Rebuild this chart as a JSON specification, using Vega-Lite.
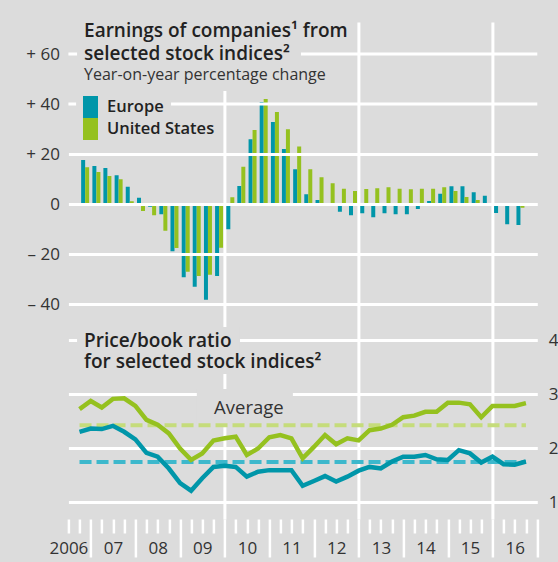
{
  "$schema": "https://vega.github.io/schema/vega-lite/v6.json",
  "width": 468.9,
  "height": 497,
  "autosize": {"type": "none"},
  "padding": {"left": 68.4, "top": 22, "right": 20.7, "bottom": 43},
  "background": "#dcdcdc",
  "config": {
    "view": {"stroke": null},
    "font": "Open Sans",
    "scale": {"continuousPadding": 0},
    "axis": {"labelFont": "Open Sans", "labelFontSize": 17, "labelColor": "#333333", "domain": false, "ticks": false, "title": null, "gridColor": "#ffffff", "gridWidth": 3, "gridOpacity": 1, "labelOverlap": false, "labelFlush": false}
  },
  "datasets": {
    "earn": [
      {"date": "2006-11-15", "region": "Europe", "chg": 17.6}, {"date": "2006-11-15", "region": "United States", "chg": 14.7},
      {"date": "2007-02-15", "region": "Europe", "chg": 15.2}, {"date": "2007-02-15", "region": "United States", "chg": 12.8},
      {"date": "2007-05-16", "region": "Europe", "chg": 14.4}, {"date": "2007-05-16", "region": "United States", "chg": 11.2},
      {"date": "2007-08-16", "region": "Europe", "chg": 11.5}, {"date": "2007-08-16", "region": "United States", "chg": 9.9},
      {"date": "2007-11-15", "region": "Europe", "chg": 6.9}, {"date": "2007-11-15", "region": "United States", "chg": 1.1},
      {"date": "2008-02-15", "region": "Europe", "chg": 2.5}, {"date": "2008-02-15", "region": "United States", "chg": -2.8},
      {"date": "2008-05-16", "region": "Europe", "chg": -1.1}, {"date": "2008-05-16", "region": "United States", "chg": -4.5},
      {"date": "2008-08-16", "region": "Europe", "chg": -4.1}, {"date": "2008-08-16", "region": "United States", "chg": -10.7},
      {"date": "2008-11-15", "region": "Europe", "chg": -18.9}, {"date": "2008-11-15", "region": "United States", "chg": -17.6},
      {"date": "2009-02-15", "region": "Europe", "chg": -29.3}, {"date": "2009-02-15", "region": "United States", "chg": -27.1},
      {"date": "2009-05-16", "region": "Europe", "chg": -33.1}, {"date": "2009-05-16", "region": "United States", "chg": -28.8},
      {"date": "2009-08-16", "region": "Europe", "chg": -38.3}, {"date": "2009-08-16", "region": "United States", "chg": -28.3},
      {"date": "2009-11-15", "region": "Europe", "chg": -28.8}, {"date": "2009-11-15", "region": "United States", "chg": -17.5},
      {"date": "2010-02-15", "region": "Europe", "chg": -10.1}, {"date": "2010-02-15", "region": "United States", "chg": 2.7},
      {"date": "2010-05-16", "region": "Europe", "chg": 7.2}, {"date": "2010-05-16", "region": "United States", "chg": 14.9},
      {"date": "2010-08-16", "region": "Europe", "chg": 25.9}, {"date": "2010-08-16", "region": "United States", "chg": 29.6},
      {"date": "2010-11-15", "region": "Europe", "chg": 40.8}, {"date": "2010-11-15", "region": "United States", "chg": 42.0},
      {"date": "2011-02-15", "region": "Europe", "chg": 32.8}, {"date": "2011-02-15", "region": "United States", "chg": 36.8},
      {"date": "2011-05-16", "region": "Europe", "chg": 22.0}, {"date": "2011-05-16", "region": "United States", "chg": 29.9},
      {"date": "2011-08-16", "region": "Europe", "chg": 13.9}, {"date": "2011-08-16", "region": "United States", "chg": 23.0},
      {"date": "2011-11-15", "region": "Europe", "chg": 3.9}, {"date": "2011-11-15", "region": "United States", "chg": 13.9},
      {"date": "2012-02-15", "region": "Europe", "chg": 1.6}, {"date": "2012-02-15", "region": "United States", "chg": 10.7},
      {"date": "2012-05-16", "region": "Europe", "chg": 0.2}, {"date": "2012-05-16", "region": "United States", "chg": 8.3},
      {"date": "2012-08-16", "region": "Europe", "chg": -3.1}, {"date": "2012-08-16", "region": "United States", "chg": 6.1},
      {"date": "2012-11-15", "region": "Europe", "chg": -4.5}, {"date": "2012-11-15", "region": "United States", "chg": 5.2},
      {"date": "2013-02-15", "region": "Europe", "chg": -3.7}, {"date": "2013-02-15", "region": "United States", "chg": 6.0},
      {"date": "2013-05-16", "region": "Europe", "chg": -5.3}, {"date": "2013-05-16", "region": "United States", "chg": 6.3},
      {"date": "2013-08-16", "region": "Europe", "chg": -3.7}, {"date": "2013-08-16", "region": "United States", "chg": 6.7},
      {"date": "2013-11-15", "region": "Europe", "chg": -4.1}, {"date": "2013-11-15", "region": "United States", "chg": 6.1},
      {"date": "2014-02-15", "region": "Europe", "chg": -4.1}, {"date": "2014-02-15", "region": "United States", "chg": 5.9},
      {"date": "2014-05-16", "region": "Europe", "chg": -2.0}, {"date": "2014-05-16", "region": "United States", "chg": 6.1},
      {"date": "2014-08-16", "region": "Europe", "chg": 1.2}, {"date": "2014-08-16", "region": "United States", "chg": 6.1},
      {"date": "2014-11-15", "region": "Europe", "chg": 4.1}, {"date": "2014-11-15", "region": "United States", "chg": 6.7},
      {"date": "2015-02-15", "region": "Europe", "chg": 7.1}, {"date": "2015-02-15", "region": "United States", "chg": 5.2},
      {"date": "2015-05-16", "region": "Europe", "chg": 7.1}, {"date": "2015-05-16", "region": "United States", "chg": 2.8},
      {"date": "2015-08-16", "region": "Europe", "chg": 4.7}, {"date": "2015-08-16", "region": "United States", "chg": 1.6},
      {"date": "2015-11-15", "region": "Europe", "chg": 3.3}, {"date": "2015-11-15", "region": "United States", "chg": 0.0},
      {"date": "2016-02-15", "region": "Europe", "chg": -3.6}, {"date": "2016-02-15", "region": "United States", "chg": 0.0},
      {"date": "2016-05-16", "region": "Europe", "chg": -8.1}, {"date": "2016-05-16", "region": "United States", "chg": 0.0},
      {"date": "2016-08-16", "region": "Europe", "chg": -8.4}, {"date": "2016-08-16", "region": "United States", "chg": -1.5}
    ],
    "pb": [
      {"date": "2006-09-30", "region": "Europe", "pb": 2.30, "avg": 1.74}, {"date": "2006-09-30", "region": "United States", "pb": 2.72, "avg": 2.42},
      {"date": "2006-12-31", "region": "Europe", "pb": 2.36, "avg": 1.74}, {"date": "2006-12-31", "region": "United States", "pb": 2.87, "avg": 2.42},
      {"date": "2007-03-31", "region": "Europe", "pb": 2.35, "avg": 1.74}, {"date": "2007-03-31", "region": "United States", "pb": 2.75, "avg": 2.42},
      {"date": "2007-06-30", "region": "Europe", "pb": 2.41, "avg": 1.74}, {"date": "2007-06-30", "region": "United States", "pb": 2.91, "avg": 2.42},
      {"date": "2007-09-30", "region": "Europe", "pb": 2.30, "avg": 1.74}, {"date": "2007-09-30", "region": "United States", "pb": 2.92, "avg": 2.42},
      {"date": "2007-12-31", "region": "Europe", "pb": 2.16, "avg": 1.74}, {"date": "2007-12-31", "region": "United States", "pb": 2.78, "avg": 2.42},
      {"date": "2008-03-31", "region": "Europe", "pb": 1.91, "avg": 1.74}, {"date": "2008-03-31", "region": "United States", "pb": 2.52, "avg": 2.42},
      {"date": "2008-06-30", "region": "Europe", "pb": 1.84, "avg": 1.74}, {"date": "2008-06-30", "region": "United States", "pb": 2.43, "avg": 2.42},
      {"date": "2008-09-30", "region": "Europe", "pb": 1.62, "avg": 1.74}, {"date": "2008-09-30", "region": "United States", "pb": 2.27, "avg": 2.42},
      {"date": "2008-12-31", "region": "Europe", "pb": 1.35, "avg": 1.74}, {"date": "2008-12-31", "region": "United States", "pb": 1.99, "avg": 2.42},
      {"date": "2009-03-31", "region": "Europe", "pb": 1.21, "avg": 1.74}, {"date": "2009-03-31", "region": "United States", "pb": 1.78, "avg": 2.42},
      {"date": "2009-06-30", "region": "Europe", "pb": 1.44, "avg": 1.74}, {"date": "2009-06-30", "region": "United States", "pb": 1.90, "avg": 2.42},
      {"date": "2009-09-30", "region": "Europe", "pb": 1.65, "avg": 1.74}, {"date": "2009-09-30", "region": "United States", "pb": 2.14, "avg": 2.42},
      {"date": "2009-12-31", "region": "Europe", "pb": 1.67, "avg": 1.74}, {"date": "2009-12-31", "region": "United States", "pb": 2.18, "avg": 2.42},
      {"date": "2010-03-31", "region": "Europe", "pb": 1.65, "avg": 1.74}, {"date": "2010-03-31", "region": "United States", "pb": 2.21, "avg": 2.42},
      {"date": "2010-06-30", "region": "Europe", "pb": 1.47, "avg": 1.74}, {"date": "2010-06-30", "region": "United States", "pb": 1.87, "avg": 2.42},
      {"date": "2010-09-30", "region": "Europe", "pb": 1.56, "avg": 1.74}, {"date": "2010-09-30", "region": "United States", "pb": 1.99, "avg": 2.42},
      {"date": "2010-12-31", "region": "Europe", "pb": 1.59, "avg": 1.74}, {"date": "2010-12-31", "region": "United States", "pb": 2.20, "avg": 2.42},
      {"date": "2011-03-31", "region": "Europe", "pb": 1.59, "avg": 1.74}, {"date": "2011-03-31", "region": "United States", "pb": 2.24, "avg": 2.42},
      {"date": "2011-06-30", "region": "Europe", "pb": 1.59, "avg": 1.74}, {"date": "2011-06-30", "region": "United States", "pb": 2.18, "avg": 2.42},
      {"date": "2011-09-30", "region": "Europe", "pb": 1.30, "avg": 1.74}, {"date": "2011-09-30", "region": "United States", "pb": 1.81, "avg": 2.42},
      {"date": "2011-12-31", "region": "Europe", "pb": 1.39, "avg": 1.74}, {"date": "2011-12-31", "region": "United States", "pb": 2.02, "avg": 2.42},
      {"date": "2012-03-31", "region": "Europe", "pb": 1.48, "avg": 1.74}, {"date": "2012-03-31", "region": "United States", "pb": 2.24, "avg": 2.42},
      {"date": "2012-06-30", "region": "Europe", "pb": 1.38, "avg": 1.74}, {"date": "2012-06-30", "region": "United States", "pb": 2.07, "avg": 2.42},
      {"date": "2012-09-30", "region": "Europe", "pb": 1.47, "avg": 1.74}, {"date": "2012-09-30", "region": "United States", "pb": 2.18, "avg": 2.42},
      {"date": "2012-12-31", "region": "Europe", "pb": 1.58, "avg": 1.74}, {"date": "2012-12-31", "region": "United States", "pb": 2.14, "avg": 2.42},
      {"date": "2013-03-31", "region": "Europe", "pb": 1.65, "avg": 1.74}, {"date": "2013-03-31", "region": "United States", "pb": 2.33, "avg": 2.42},
      {"date": "2013-06-30", "region": "Europe", "pb": 1.62, "avg": 1.74}, {"date": "2013-06-30", "region": "United States", "pb": 2.36, "avg": 2.42},
      {"date": "2013-09-30", "region": "Europe", "pb": 1.75, "avg": 1.74}, {"date": "2013-09-30", "region": "United States", "pb": 2.43, "avg": 2.42},
      {"date": "2013-12-31", "region": "Europe", "pb": 1.84, "avg": 1.74}, {"date": "2013-12-31", "region": "United States", "pb": 2.57, "avg": 2.42},
      {"date": "2014-03-31", "region": "Europe", "pb": 1.84, "avg": 1.74}, {"date": "2014-03-31", "region": "United States", "pb": 2.60, "avg": 2.42},
      {"date": "2014-06-30", "region": "Europe", "pb": 1.87, "avg": 1.74}, {"date": "2014-06-30", "region": "United States", "pb": 2.67, "avg": 2.42},
      {"date": "2014-09-30", "region": "Europe", "pb": 1.79, "avg": 1.74}, {"date": "2014-09-30", "region": "United States", "pb": 2.67, "avg": 2.42},
      {"date": "2014-12-31", "region": "Europe", "pb": 1.78, "avg": 1.74}, {"date": "2014-12-31", "region": "United States", "pb": 2.84, "avg": 2.42},
      {"date": "2015-03-31", "region": "Europe", "pb": 1.96, "avg": 1.74}, {"date": "2015-03-31", "region": "United States", "pb": 2.84, "avg": 2.42},
      {"date": "2015-06-30", "region": "Europe", "pb": 1.90, "avg": 1.74}, {"date": "2015-06-30", "region": "United States", "pb": 2.81, "avg": 2.42},
      {"date": "2015-09-30", "region": "Europe", "pb": 1.73, "avg": 1.74}, {"date": "2015-09-30", "region": "United States", "pb": 2.57, "avg": 2.42},
      {"date": "2015-12-31", "region": "Europe", "pb": 1.84, "avg": 1.74}, {"date": "2015-12-31", "region": "United States", "pb": 2.78, "avg": 2.42},
      {"date": "2016-03-31", "region": "Europe", "pb": 1.70, "avg": 1.74}, {"date": "2016-03-31", "region": "United States", "pb": 2.78, "avg": 2.42},
      {"date": "2016-06-30", "region": "Europe", "pb": 1.69, "avg": 1.74}, {"date": "2016-06-30", "region": "United States", "pb": 2.78, "avg": 2.42},
      {"date": "2016-09-30", "region": "Europe", "pb": 1.75, "avg": 1.74}, {"date": "2016-09-30", "region": "United States", "pb": 2.83, "avg": 2.42}
    ]
  },
  "layer": [
    {
      "data": {"name": "earn"},
      "transform": [{"filter": "datum.region === 'Europe'"}],
      "mark": {"type": "bar", "width": 4, "xOffset": -2},
      "encoding": {
        "x": {"field": "date", "type": "temporal",
          "scale": {"type": "utc", "padding": 0, "domain": [{"year": 2006, "month": 7, "date": 1, "utc": true}, {"year": 2017, "month": 1, "date": 1, "utc": true}]},
          "axis": {"orient": "bottom", "values": [
            {"year": 2006, "month": 7, "date": 1, "utc": true}, {"year": 2006, "month": 10, "date": 1, "utc": true},
            {"year": 2007, "month": 4, "date": 1, "utc": true}, {"year": 2007, "month": 7, "date": 1, "utc": true}, {"year": 2007, "month": 10, "date": 1, "utc": true},
            {"year": 2008, "month": 4, "date": 1, "utc": true}, {"year": 2008, "month": 7, "date": 1, "utc": true}, {"year": 2008, "month": 10, "date": 1, "utc": true},
            {"year": 2009, "month": 4, "date": 1, "utc": true}, {"year": 2009, "month": 7, "date": 1, "utc": true}, {"year": 2009, "month": 10, "date": 1, "utc": true},
            {"year": 2010, "month": 4, "date": 1, "utc": true}, {"year": 2010, "month": 7, "date": 1, "utc": true}, {"year": 2010, "month": 10, "date": 1, "utc": true},
            {"year": 2011, "month": 4, "date": 1, "utc": true}, {"year": 2011, "month": 7, "date": 1, "utc": true}, {"year": 2011, "month": 10, "date": 1, "utc": true},
            {"year": 2012, "month": 4, "date": 1, "utc": true}, {"year": 2012, "month": 7, "date": 1, "utc": true}, {"year": 2012, "month": 10, "date": 1, "utc": true},
            {"year": 2013, "month": 4, "date": 1, "utc": true}, {"year": 2013, "month": 7, "date": 1, "utc": true}, {"year": 2013, "month": 10, "date": 1, "utc": true},
            {"year": 2014, "month": 4, "date": 1, "utc": true}, {"year": 2014, "month": 7, "date": 1, "utc": true}, {"year": 2014, "month": 10, "date": 1, "utc": true},
            {"year": 2015, "month": 4, "date": 1, "utc": true}, {"year": 2015, "month": 7, "date": 1, "utc": true}, {"year": 2015, "month": 10, "date": 1, "utc": true},
            {"year": 2016, "month": 4, "date": 1, "utc": true}, {"year": 2016, "month": 7, "date": 1, "utc": true}, {"year": 2016, "month": 10, "date": 1, "utc": true}
          ], "ticks": true, "tickSize": 14, "tickWidth": 2.5, "tickColor": "#ffffff", "grid": false, "labelPadding": 7, "labelExpr": "utcmonth(datum.value) == 6 ? (utcyear(datum.value) == 2006 ? '2006' : format(utcyear(datum.value) % 100, '02d')) : ''"}},
        "y": {"field": "chg", "type": "quantitative",
          "scale": {"domain": [-126, 72.8], "nice": false, "zero": false},
          "axis": {"orient": "left", "values": [-40, -20, 0, 20], "grid": true, "zindex": 1, "labelPadding": 9, "labelExpr": "datum.value > 0 ? '+ ' + datum.value : (datum.value < 0 ? '\u2013 ' + abs(datum.value) : '0')"}},
        "color": {"field": "region", "type": "nominal",
          "scale": {"domain": ["Europe", "United States"], "range": ["#0096a9", "#95c11f"]},
          "legend": {"orient": "none", "legendX": 11.1, "legendY": 74, "title": null, "symbolType": "M-0.68,-1H0.68V1H-0.68Z", "symbolSize": 484, "symbolStrokeWidth": 0, "symbolOpacity": 1, "labelFont": "Open Sans", "labelFontSize": 16.5, "labelFontWeight": 600, "labelColor": "#222222", "rowPadding": 0, "padding": 0, "labelOffset": 5.5}}
      }
    },
    {
      "data": {"name": "earn"},
      "transform": [{"filter": "datum.region === 'United States'"}],
      "mark": {"type": "bar", "width": 4, "xOffset": 2},
      "encoding": {
        "x": {"field": "date", "type": "temporal", "axis": null},
        "y": {"field": "chg", "type": "quantitative", "scale": {"domain": [-126, 72.8], "nice": false, "zero": false},
          "axis": {"orient": "left", "values": [40, 60], "grid": false, "labelPadding": 9, "labelExpr": "'+ ' + datum.value"}},
        "color": {"field": "region", "type": "nominal"}
      }
    },
    {
      "data": {"values": [{}]},
      "mark": {"type": "rule", "color": "#ffffff", "strokeWidth": 3},
      "encoding": {
        "y": {"datum": 60, "type": "quantitative", "scale": {"domain": [-126, 72.8], "nice": false, "zero": false}, "axis": null}
      }
    },
    {
      "data": {"values": [{}]},
      "mark": {"type": "rule", "color": "#ffffff", "strokeWidth": 3},
      "encoding": {
        "y": {"datum": 40, "type": "quantitative", "scale": {"domain": [-126, 72.8], "nice": false, "zero": false}, "axis": null}
      }
    },
    {
      "data": {"values": [{}]},
      "mark": {"type": "rect", "color": "#dcdcdc"},
      "encoding": {
        "x": {"datum": {"year": 2006, "month": 9, "date": 10, "utc": true}, "type": "temporal", "axis": null},
        "x2": {"datum": {"year": 2012, "month": 12, "date": 17, "utc": true}},
        "y": {"datum": 72.8, "type": "quantitative", "scale": {"domain": [-126, 72.8], "nice": false, "zero": false}, "axis": null},
        "y2": {"datum": 63.6}
      }
    },
    {
      "data": {"values": [{}]},
      "mark": {"type": "rect", "color": "#dcdcdc"},
      "encoding": {
        "x": {"datum": {"year": 2006, "month": 9, "date": 10, "utc": true}, "type": "temporal", "axis": null},
        "x2": {"datum": {"year": 2011, "month": 9, "date": 16, "utc": true}},
        "y": {"datum": 63.6, "type": "quantitative", "scale": {"domain": [-126, 72.8], "nice": false, "zero": false}, "axis": null},
        "y2": {"datum": 55.2}
      }
    },
    {
      "data": {"values": [{}]},
      "mark": {"type": "rect", "color": "#dcdcdc"},
      "encoding": {
        "x": {"datum": {"year": 2006, "month": 9, "date": 10, "utc": true}, "type": "temporal", "axis": null},
        "x2": {"datum": {"year": 2012, "month": 7, "date": 7, "utc": true}},
        "y": {"datum": 55.2, "type": "quantitative", "scale": {"domain": [-126, 72.8], "nice": false, "zero": false}, "axis": null},
        "y2": {"datum": 45.2}
      }
    },
    {
      "data": {"values": [{}]},
      "mark": {"type": "rect", "color": "#dcdcdc"},
      "encoding": {
        "x": {"datum": {"year": 2006, "month": 9, "date": 2, "utc": true}, "type": "temporal", "axis": null},
        "x2": {"datum": {"year": 2008, "month": 10, "date": 18, "utc": true}},
        "y": {"datum": 44, "type": "quantitative", "scale": {"domain": [-126, 72.8], "nice": false, "zero": false}, "axis": null},
        "y2": {"datum": 35.2}
      }
    },
    {
      "data": {"values": [{}]},
      "mark": {"type": "rect", "color": "#dcdcdc"},
      "encoding": {
        "x": {"datum": {"year": 2006, "month": 9, "date": 10, "utc": true}, "type": "temporal", "axis": null},
        "x2": {"datum": {"year": 2010, "month": 5, "date": 5, "utc": true}},
        "y": {"datum": -49.2, "type": "quantitative", "scale": {"domain": [-126, 72.8], "nice": false, "zero": false}, "axis": null},
        "y2": {"datum": -58.8}
      }
    },
    {
      "data": {"values": [{}]},
      "mark": {"type": "rect", "color": "#dcdcdc"},
      "encoding": {
        "x": {"datum": {"year": 2006, "month": 9, "date": 10, "utc": true}, "type": "temporal", "axis": null},
        "x2": {"datum": {"year": 2012, "month": 7, "date": 7, "utc": true}},
        "y": {"datum": -58.8, "type": "quantitative", "scale": {"domain": [-126, 72.8], "nice": false, "zero": false}, "axis": null},
        "y2": {"datum": -68}
      }
    },
    {
      "data": {"values": [{}]},
      "mark": {"type": "rect", "color": "#dcdcdc"},
      "encoding": {
        "x": {"datum": {"year": 2009, "month": 5, "date": 17, "utc": true}, "type": "temporal", "axis": null},
        "x2": {"datum": {"year": 2011, "month": 7, "date": 12, "utc": true}},
        "y": {"datum": -74, "type": "quantitative", "scale": {"domain": [-126, 72.8], "nice": false, "zero": false}, "axis": null},
        "y2": {"datum": -88}
      }
    },
    {
      "data": {"values": [{}]},
      "mark": {"type": "text", "align": "left", "baseline": "alphabetic", "font": "Open Sans", "fontSize": 19, "fontWeight": 600, "color": "#222222", "lineHeight": 23, "text": ["Earnings of companies\u00b9 from", "selected stock indices\u00b2"]},
      "encoding": {
        "x": {"datum": {"year": 2006, "month": 11, "date": 6, "utc": true}, "type": "temporal", "axis": null},
        "y": {"datum": 66.8, "type": "quantitative", "scale": {"domain": [-126, 72.8], "nice": false, "zero": false}, "axis": null}
      }
    },
    {
      "data": {"values": [{}]},
      "mark": {"type": "text", "align": "left", "baseline": "alphabetic", "font": "Open Sans", "fontSize": 16, "fontWeight": 400, "color": "#333333", "text": "Year-on-year percentage change"},
      "encoding": {
        "x": {"datum": {"year": 2006, "month": 11, "date": 6, "utc": true}, "type": "temporal", "axis": null},
        "y": {"datum": 49.6, "type": "quantitative", "scale": {"domain": [-126, 72.8], "nice": false, "zero": false}, "axis": null}
      }
    },
    {
      "data": {"values": [{}]},
      "mark": {"type": "text", "align": "left", "baseline": "alphabetic", "font": "Open Sans", "fontSize": 19, "fontWeight": 600, "color": "#222222", "lineHeight": 21, "text": ["Price/book ratio", "for selected stock indices\u00b2"]},
      "encoding": {
        "x": {"datum": {"year": 2006, "month": 11, "date": 6, "utc": true}, "type": "temporal", "axis": null},
        "y": {"datum": -57.2, "type": "quantitative", "scale": {"domain": [-126, 72.8], "nice": false, "zero": false}, "axis": null}
      }
    },
    {
      "data": {"values": [{}]},
      "mark": {"type": "text", "align": "left", "baseline": "alphabetic", "font": "Open Sans", "fontSize": 18.5, "fontWeight": 400, "color": "#333333", "text": "Average"},
      "encoding": {
        "x": {"datum": {"year": 2009, "month": 10, "date": 5, "utc": true}, "type": "temporal", "axis": null},
        "y": {"datum": -84, "type": "quantitative", "scale": {"domain": [-126, 72.8], "nice": false, "zero": false}, "axis": null}
      }
    },
    {
      "data": {"name": "pb"},
      "mark": {"type": "line", "strokeWidth": 4, "strokeDash": [12, 5]},
      "encoding": {
        "x": {"field": "date", "type": "temporal",
          "axis": {"orient": "bottom", "values": [
            {"year": 2007, "month": 1, "date": 1, "utc": true}, {"year": 2008, "month": 1, "date": 1, "utc": true}, {"year": 2009, "month": 1, "date": 1, "utc": true},
            {"year": 2010, "month": 1, "date": 1, "utc": true}, {"year": 2011, "month": 1, "date": 1, "utc": true}, {"year": 2012, "month": 1, "date": 1, "utc": true},
            {"year": 2013, "month": 1, "date": 1, "utc": true}, {"year": 2014, "month": 1, "date": 1, "utc": true}, {"year": 2015, "month": 1, "date": 1, "utc": true},
            {"year": 2016, "month": 1, "date": 1, "utc": true}, {"year": 2017, "month": 1, "date": 1, "utc": true}
          ], "ticks": true, "tickSize": 38, "tickWidth": 2.5, "tickColor": "#ffffff", "labels": false, "grid": true,
          "gridOpacity": {"condition": {"test": "indexof([2010, 2013, 2016], utcyear(datum.value)) >= 0", "value": 1}, "value": 0}}},
        "y": {"field": "avg", "type": "quantitative",
          "scale": {"domain": [0.6852, 9.8889], "nice": false, "zero": false},
          "axis": {"orient": "right", "values": [1, 2, 3, 4], "grid": true, "labelPadding": 11}},
        "stroke": {"field": "region", "type": "nominal",
          "scale": {"domain": ["Europe", "United States"], "range": ["#3db8cc", "#c5dc7b"]},
          "legend": null}
      }
    },
    {
      "data": {"name": "pb"},
      "mark": {"type": "line", "strokeWidth": 4.5},
      "encoding": {
        "x": {"field": "date", "type": "temporal", "axis": null},
        "y": {"field": "pb", "type": "quantitative", "scale": {"domain": [0.6852, 9.8889], "nice": false, "zero": false}, "axis": null},
        "color": {"field": "region", "type": "nominal", "legend": null}
      }
    }
  ],
  "resolve": {"scale": {"y": "independent"}, "axis": {"x": "independent"}}
}
